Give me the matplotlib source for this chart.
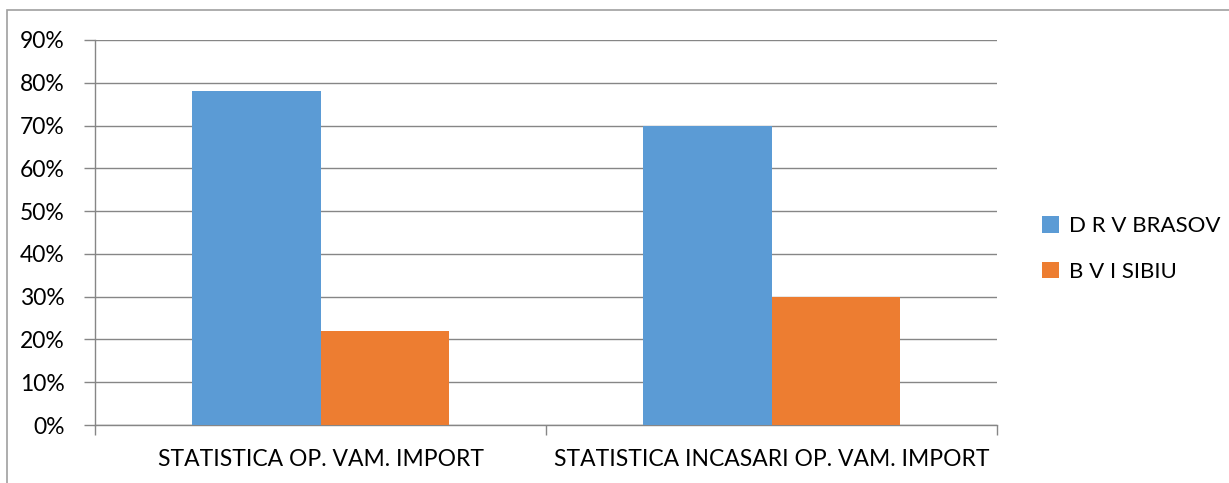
import matplotlib
matplotlib.use("Agg")
import matplotlib.pyplot as plt
import numpy as np
from matplotlib.patches import Rectangle

categories = ["STATISTICA OP. VAM. IMPORT", "STATISTICA INCASARI OP. VAM. IMPORT"]
series_names = ["D R V BRASOV", "B V I SIBIU"]
brasov = [0.78, 0.70]
sibiu = [0.22, 0.30]
yticks = [0, 0.1, 0.2, 0.3, 0.4, 0.5, 0.6, 0.7, 0.8, 0.9]
ytick_labels = ["0%", "10%", "20%", "30%", "40%", "50%", "60%", "70%", "80%", "90%"]

colors = ["#5B9BD5", "#ED7D31"]
grid_c = "#868686"

plt.rcParams['font.family'] = ['Lato', 'DejaVu Sans']

W, H = 1229, 483
fig = plt.figure(figsize=(W/100, H/100), dpi=100)
ax = fig.add_axes([95/W, 1 - 425/H, (997-95)/W, (425-40)/H])

x = np.arange(len(categories))
bw = 0.285
ax.bar(x - bw/2, brasov, width=bw, color=colors[0], label=series_names[0], zorder=3)
ax.bar(x + bw/2, sibiu, width=bw, color=colors[1], label=series_names[1], zorder=3)

ax.set_xlim(-0.5, 1.5)
ax.set_ylim(0, 0.9)
ax.set_yticks(yticks)
ax.set_yticklabels(ytick_labels, fontsize=16.5)
ax.yaxis.grid(True, color=grid_c, linewidth=1, zorder=0)
ax.set_xticks([-0.5, 0.5, 1.5], minor=False)
ax.set_xticklabels([])
ax.set_xticks(x, minor=True)
ax.set_xticklabels(categories, minor=True, fontsize=16.5)
ax.tick_params(axis='x', which='minor', length=0, pad=17)
ax.tick_params(axis='x', which='major', length=7, color=grid_c, width=1)
ax.tick_params(axis='y', length=8, color=grid_c, width=1, pad=14)
for s in ['top', 'right']:
    ax.spines[s].set_visible(False)
for s in ['left', 'bottom']:
    ax.spines[s].set_color(grid_c)
    ax.spines[s].set_linewidth(1)

leg = fig.legend(loc='center left', bbox_to_anchor=(1022/W, 1 - 249/H), frameon=False,
                 fontsize=16, handlelength=0.75, handleheight=0.75, handletextpad=0.45,
                 labelspacing=1.15)

fig.patches.append(Rectangle((7/W, -0.01), 1.05, 1 - 10/H + 0.01, transform=fig.transFigure,
                             fill=False, edgecolor='#A0A0A0', linewidth=1.2))

fig.savefig("out.png", dpi=100)
